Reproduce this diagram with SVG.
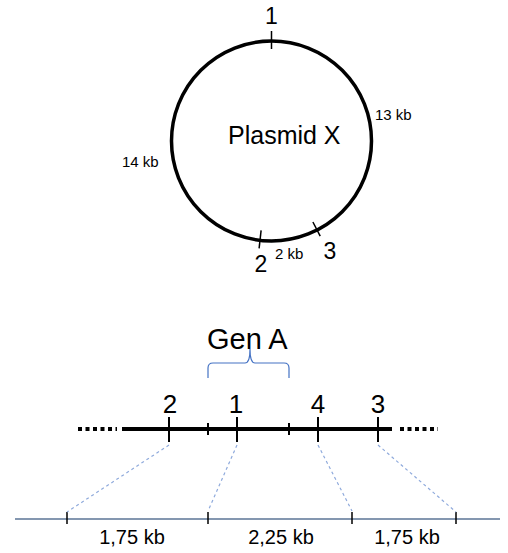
<svg xmlns="http://www.w3.org/2000/svg" width="508" height="553" viewBox="0 0 508 553">
<style>
text{font-family:"Liberation Sans",Arial,sans-serif;fill:#000}
.lbl{font-size:23px;text-anchor:middle}
.num{font-size:26px;text-anchor:middle}
.sm{font-size:15px}
.bl{font-size:20px;text-anchor:middle}
.tk{stroke:#000;stroke-width:1.5;fill:none}
.tkb{stroke:#000;stroke-width:2;fill:none}
.dash{stroke:#8faadc;stroke-width:1.2;stroke-dasharray:3 3;fill:none}
</style>
<rect width="508" height="553" fill="#fff"/>
<g id="plasmid">
<circle cx="271.5" cy="141" r="100" fill="none" stroke="#000" stroke-width="3.5"/>
<line class="tk" x1="271.5" y1="31" x2="271.5" y2="49"/>
<line class="tk" x1="261.1" y1="230.4" x2="259.1" y2="248.3"/>
<line class="tk" x1="312.9" y1="222" x2="320.2" y2="236.2"/>
<text class="lbl" x="271.5" y="24">1</text>
<text class="lbl" x="261" y="272">2</text>
<text class="lbl" x="330" y="259">3</text>
<text class="sm" x="275" y="259">2 kb</text>
<text class="sm" x="375" y="120">13 kb</text>
<text class="sm" x="122" y="167">14 kb</text>
<text x="228" y="144" font-size="25">Plasmid X</text>
</g>
<g id="gen-a">
<text x="207" y="349" font-size="29">Gen A</text>
<path d="M208,378 V368 Q208,363 213,363 H245 Q250,363 250,349 Q250,363 255,363 H284 Q289,363 289,368 V378" fill="none" stroke="#4472c4" stroke-width="1.2"/>
</g>
<g id="segment">
<line x1="122" y1="429" x2="392" y2="429" stroke="#000" stroke-width="4"/>
<line x1="78" y1="429" x2="117" y2="429" stroke="#000" stroke-width="4" stroke-dasharray="4 3.5"/>
<line x1="400" y1="429" x2="438" y2="429" stroke="#000" stroke-width="4" stroke-dasharray="4 3.5"/>
<line class="tkb" x1="169" y1="417" x2="169" y2="442"/>
<line class="tkb" x1="237" y1="417" x2="237" y2="442"/>
<line class="tkb" x1="318" y1="417" x2="318" y2="442"/>
<line class="tkb" x1="378" y1="417" x2="378" y2="442"/>
<line class="tkb" x1="208" y1="423" x2="208" y2="435"/>
<line class="tkb" x1="289" y1="423" x2="289" y2="435"/>
<text class="num" x="170" y="413">2</text>
<text class="num" x="236" y="413">1</text>
<text class="num" x="318" y="413">4</text>
<text class="num" x="378" y="413">3</text>
</g>
<g id="map">
<line x1="15" y1="519" x2="500" y2="519" stroke="#8497b0" stroke-width="2"/>
<line class="tk" x1="67" y1="512" x2="67" y2="524"/>
<line class="tk" x1="208" y1="512" x2="208" y2="524"/>
<line class="tk" x1="352" y1="512" x2="352" y2="524"/>
<line class="tk" x1="456" y1="512" x2="456" y2="524"/>
<text class="bl" x="132" y="544">1,75 kb</text>
<text class="bl" x="281" y="544">2,25 kb</text>
<text class="bl" x="407" y="544">1,75 kb</text>
</g>
<g id="connectors">
<line class="dash" x1="169" y1="445" x2="67" y2="512"/>
<line class="dash" x1="237" y1="445" x2="208" y2="511"/>
<line class="dash" x1="318" y1="445" x2="352" y2="511"/>
<line class="dash" x1="378" y1="445" x2="456" y2="512"/>
</g>
</svg>
